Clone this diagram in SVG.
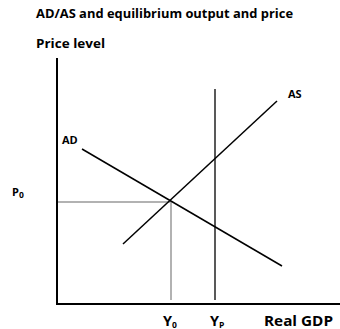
<svg xmlns="http://www.w3.org/2000/svg" width="340" height="329" viewBox="0 0 340 329">
<style>
text{font-family:"Open Sans","Liberation Sans",sans-serif;font-weight:bold;fill:#000}
.t{font-size:13px}
.b{font-size:14.5px}
.l{font-size:11px}
.axis{stroke:#000;stroke-width:2;fill:none}
.curve{stroke:#000;stroke-width:1.5;fill:none}
.guide{stroke:#999;stroke-width:1.5;fill:none}
.sub{font-size:8.5px}
</style>
<rect width="340" height="329" fill="#fff"/>
<text class="t" x="36" y="18" textLength="257" lengthAdjust="spacingAndGlyphs">AD/AS and equilibrium output and price</text>
<text class="t" x="36" y="48" textLength="69" lengthAdjust="spacingAndGlyphs">Price level</text>
<g id="axes">
<line class="axis" x1="57" y1="58" x2="57" y2="305"/>
<line class="axis" x1="56" y1="304" x2="340" y2="304"/>
</g>
<g id="connectors">
<line class="guide" x1="58" y1="202" x2="170" y2="202"/>
<line class="guide" x1="171" y1="201" x2="171" y2="300"/>
<line stroke="#222" stroke-width="1.5" x1="215" y1="89" x2="215" y2="300"/>
</g>
<g id="AD">
<line class="curve" x1="82" y1="149" x2="282" y2="266"/>
<text class="l" x="62" y="144">AD</text>
</g>
<g id="AS">
<line class="curve" x1="123" y1="244" x2="277" y2="101"/>
<text class="l" x="288" y="98">AS</text>
</g>
<g id="P0"><text class="l" x="12" y="196">P<tspan class="sub" dy="2">0</tspan></text></g>
<g id="Y0"><text class="b" x="163" y="326">Y<tspan class="sub" dy="2">0</tspan></text></g>
<g id="YP"><text class="b" x="210" y="326">Y<tspan class="sub" dy="2">P</tspan></text></g>
<g id="RealGDP"><text class="b" x="264" y="326" textLength="69" lengthAdjust="spacingAndGlyphs">Real GDP</text></g>
</svg>
